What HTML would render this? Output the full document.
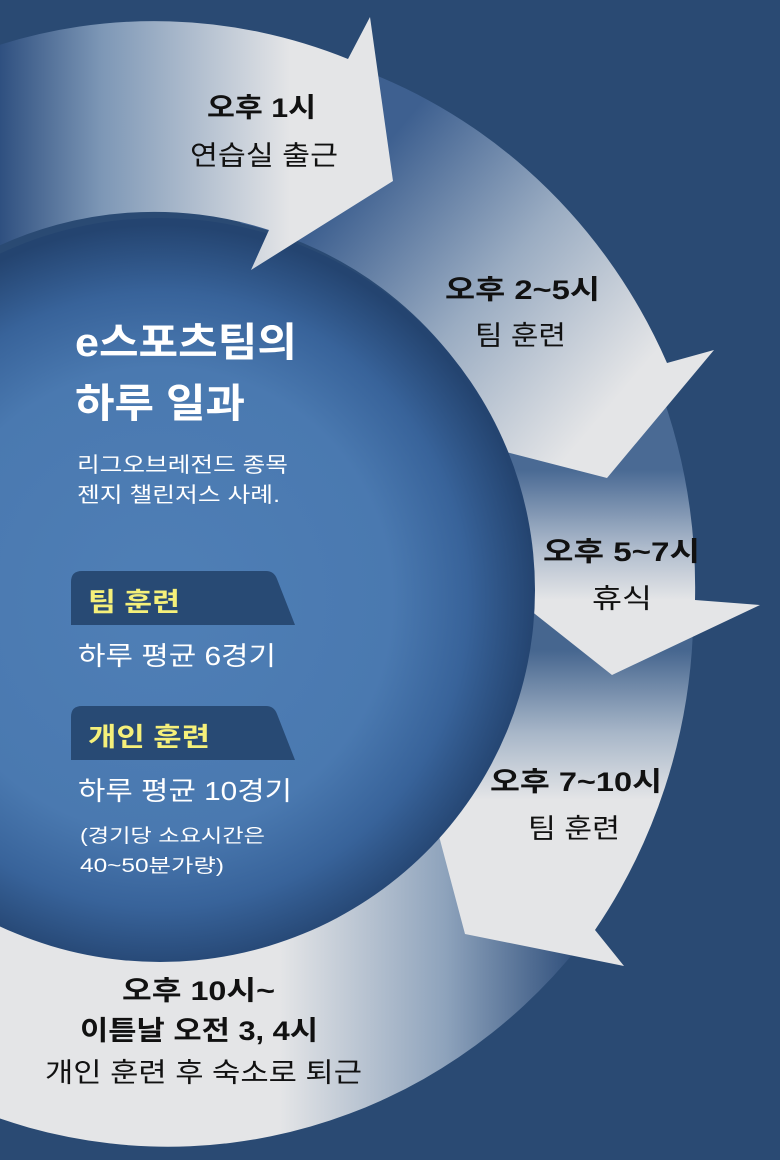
<!DOCTYPE html>
<html><head><meta charset="utf-8"><style>
html,body{margin:0;padding:0;background:#2a4a73;}
svg{display:block}
text{font-family:"Liberation Sans","Noto Sans CJK KR",sans-serif;}
</style></head><body>
<svg width="780" height="1160" viewBox="0 0 780 1160" xmlns="http://www.w3.org/2000/svg">
<defs>
<radialGradient id="cg" cx="160" cy="600" r="375" gradientUnits="userSpaceOnUse">
<stop offset="0" stop-color="#4f7fb6"/>
<stop offset="0.62" stop-color="#4a79b0"/>
<stop offset="0.82" stop-color="#38639a"/>
<stop offset="1" stop-color="#244470"/>
</radialGradient>
<linearGradient id="g1" x1="0" y1="0" x2="290" y2="0" gradientUnits="userSpaceOnUse">
<stop offset="0" stop-color="#2f5080"/><stop offset="0.35" stop-color="#7d97b6"/><stop offset="1" stop-color="#e4e5e7"/>
</linearGradient>
<linearGradient id="g2" x1="330" y1="210" x2="590" y2="430" gradientUnits="userSpaceOnUse">
<stop offset="0" stop-color="#3e6090"/><stop offset="0.5" stop-color="#9aacc2"/><stop offset="1" stop-color="#e4e5e7"/>
</linearGradient>
<linearGradient id="g3" x1="0" y1="470" x2="0" y2="600" gradientUnits="userSpaceOnUse">
<stop offset="0" stop-color="#4a6a94"/><stop offset="0.6" stop-color="#aebbcc"/><stop offset="1" stop-color="#e4e5e7"/>
</linearGradient>
<linearGradient id="g4" x1="0" y1="650" x2="0" y2="800" gradientUnits="userSpaceOnUse">
<stop offset="0" stop-color="#46668f"/><stop offset="0.55" stop-color="#a7b6c8"/><stop offset="1" stop-color="#e4e5e7"/>
</linearGradient>
<linearGradient id="g5" x1="580" y1="0" x2="280" y2="0" gradientUnits="userSpaceOnUse">
<stop offset="0" stop-color="#2d4d7a"/><stop offset="0.45" stop-color="#8ea3bc"/><stop offset="1" stop-color="#e4e5e7"/>
</linearGradient>
</defs>
<rect width="780" height="1160" fill="#2a4a73"/>
<!-- segments -->
<path d="M 580,945 A 535 557 0 0 1 -10,1115 L -10,918 A 372 372 0 0 0 450,820 Z" fill="url(#g5)"/>
<path d="M 693,630 A 535 557 0 0 1 595,930 L 624,966 L 465,934 L 422,772 L 459,804 A 372 372 0 0 0 531,600 Z" fill="url(#g4)"/>
<path d="M 657,381 A 535 557 0 0 1 695,600 L 760,605 L 612,675 L 482,572 L 531,575 A 372 372 0 0 0 505,448 Z" fill="url(#g3)"/>
<path d="M 320,56 A 535 557 0 0 1 667,363 L 714,350 L 607,478 L 448,437 L 493,422 A 372 372 0 0 0 240,223 Z" fill="url(#g2)"/>
<ellipse cx="160" cy="590" rx="375" ry="372" fill="url(#cg)"/>
<path d="M -10,48 A 535 557 0 0 1 348,59 L 370,17 L 393,181 L 251,270 L 269,230 A 372 372 0 0 0 -10,250 Z" fill="url(#g1)"/>

<!-- left texts -->
<text x="75" y="356" font-size="40" font-weight="bold" fill="#fff" textLength="222" lengthAdjust="spacingAndGlyphs">e스포츠팀의</text>
<text x="75" y="417" font-size="40" font-weight="bold" fill="#fff" textLength="170" lengthAdjust="spacingAndGlyphs">하루 일과</text>
<text x="77" y="472" font-size="21" fill="#fff" textLength="211" lengthAdjust="spacingAndGlyphs">리그오브레전드 종목</text>
<text x="77" y="502" font-size="21" fill="#fff" textLength="203" lengthAdjust="spacingAndGlyphs">젠지 챌린저스 사례.</text>

<path d="M 71,625 L 71,582 Q 71,571 82,571 L 266,571 Q 274,571 277,579 L 295,625 Z" fill="#284a74"/>
<text x="88" y="611" font-size="26" font-weight="bold" fill="#f5f07a" textLength="92" lengthAdjust="spacingAndGlyphs">팀 훈련</text>
<text x="78" y="665" font-size="26" fill="#fff" textLength="198" lengthAdjust="spacingAndGlyphs">하루 평균 6경기</text>
<path d="M 71,760 L 71,717 Q 71,706 82,706 L 266,706 Q 274,706 277,714 L 295,760 Z" fill="#284a74"/>
<text x="88" y="746" font-size="26" font-weight="bold" fill="#f5f07a" textLength="122" lengthAdjust="spacingAndGlyphs">개인 훈련</text>
<text x="78" y="800" font-size="26" fill="#fff" textLength="214" lengthAdjust="spacingAndGlyphs">하루 평균 10경기</text>
<text x="80" y="842" font-size="19" fill="#fff" textLength="185" lengthAdjust="spacingAndGlyphs">(경기당 소요시간은</text>
<text x="80" y="872" font-size="19" fill="#fff" textLength="144" lengthAdjust="spacingAndGlyphs">40~50분가량)</text>

<!-- ring labels -->
<g fill="#111">
<text x="207" y="117" font-size="27" font-weight="bold" textLength="109" lengthAdjust="spacingAndGlyphs">오후 1시</text>
<text x="190" y="165" font-size="27" textLength="148" lengthAdjust="spacingAndGlyphs">연습실 출근</text>
<text x="445" y="299" font-size="27" font-weight="bold" textLength="155" lengthAdjust="spacingAndGlyphs">오후 2~5시</text>
<text x="475" y="345" font-size="27" textLength="91" lengthAdjust="spacingAndGlyphs">팀 훈련</text>
<text x="543" y="561" font-size="27" font-weight="bold" textLength="157" lengthAdjust="spacingAndGlyphs">오후 5~7시</text>
<text x="592" y="608" font-size="27" textLength="60" lengthAdjust="spacingAndGlyphs">휴식</text>
<text x="490" y="791" font-size="27" font-weight="bold" textLength="172" lengthAdjust="spacingAndGlyphs">오후 7~10시</text>
<text x="528" y="838" font-size="27" textLength="92" lengthAdjust="spacingAndGlyphs">팀 훈련</text>
<text x="122" y="1000" font-size="27" font-weight="bold" textLength="153" lengthAdjust="spacingAndGlyphs">오후 10시~</text>
<text x="80" y="1040" font-size="27" font-weight="bold" textLength="238" lengthAdjust="spacingAndGlyphs">이튿날 오전 3, 4시</text>
<text x="45" y="1082" font-size="27" textLength="317" lengthAdjust="spacingAndGlyphs">개인 훈련 후 숙소로 퇴근</text>
</g>
</svg>
</body></html>
